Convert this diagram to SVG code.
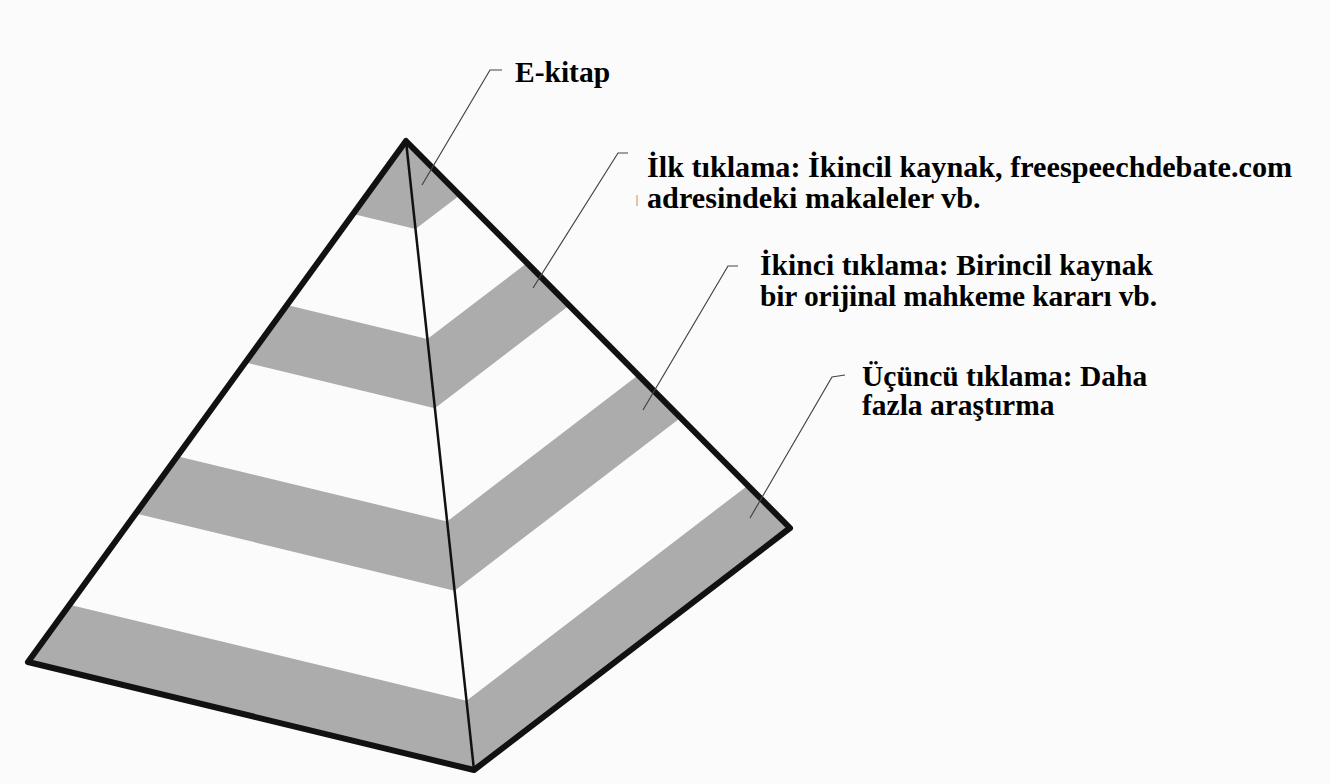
<svg xmlns="http://www.w3.org/2000/svg" width="1330" height="784" viewBox="0 0 1330 784">
  <style>
    .band { fill: #acacac; stroke: none; }
    .outline { fill: none; stroke: #111; stroke-width: 6; stroke-linejoin: round; }
    .edge { fill: none; stroke: #111; stroke-width: 2.5; }
    .leader { fill: none; stroke: #444; stroke-width: 1.2; }
    .lbl { font-family: "Liberation Serif", "Times New Roman", serif; font-weight: bold; font-size: 29.5px; fill: #000; }
    .wide { font-size: 30.2px; }
  </style>
  <rect width="1330" height="784" fill="#fbfbfb"/>
  <g id="pyramid">
    <polygon class="band" points="406,141 353.1,213.9 415.5,229.1 459.8,195.2"/>
    <polygon class="band" points="286.9,305.1 427.4,339.1 527,262.9 569.2,305.5 434.9,408.3 245.4,362.4"/>
    <polygon class="band" points="177.3,456.2 447.1,521.5 638.3,375.1 680.6,417.7 454.6,590.7 135.7,513.5"/>
    <polygon class="band" points="69.6,604.7 466.5,700.8 747.8,485.4 790,528 474,770 28,662"/>
    <line class="edge" x1="406" y1="141" x2="474" y2="770"/>
    <polygon class="outline" points="406,141 28,662 474,770 790,528"/>
  </g>
  <g id="connectors">
    <polyline class="leader" points="422,185 490,70 502,70"/>
    <polyline class="leader" points="533,288 618,153 628,153"/>
    <polyline class="leader" points="643,410 728,266 738,266"/>
    <polyline class="leader" points="750,518 832,377 845,375"/>
    <line x1="637" y1="195" x2="637" y2="206" stroke="#dca060" stroke-width="1.2"/>
  </g>
  <g id="label-ekitap">
    <text class="lbl" x="515" y="82">E-kitap</text>
  </g>
  <g id="label-ilk">
    <text class="lbl wide" x="647" y="177">İlk tıklama: İkincil kaynak, freespeechdebate.com</text>
    <text class="lbl wide" x="647" y="208">adresindeki makaleler vb.</text>
  </g>
  <g id="label-ikinci">
    <text class="lbl" x="760" y="275" textLength="393">İkinci tıklama: Birincil kaynak</text>
    <text class="lbl" x="760" y="306" textLength="397">bir orijinal mahkeme kararı vb.</text>
  </g>
  <g id="label-ucuncu">
    <text class="lbl" x="862" y="386">Üçüncü tıklama: Daha</text>
    <text class="lbl" x="862" y="415">fazla araştırma</text>
  </g>
</svg>
